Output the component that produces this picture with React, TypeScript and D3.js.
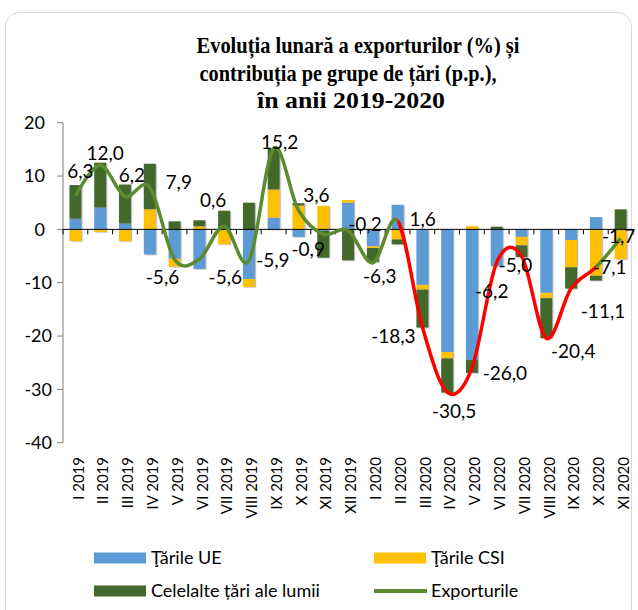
import React, { useEffect, useRef } from "react";
import * as d3 from "d3";

const months = [
  "I 2019", "II 2019", "III 2019", "IV 2019", "V 2019", "VI 2019", "VII 2019", "VIII 2019",
  "IX 2019", "X 2019", "XI 2019", "XII 2019", "I 2020", "II 2020", "III 2020", "IV 2020",
  "V 2020", "VI 2020", "VII 2020", "VIII 2020", "IX 2020", "X 2020", "XI 2020"
];
const tarileUE = [2.0, 4.1, 1.1, -4.7, -5.5, -7.4, 0, -9.3, 2.2, -1.4, -0.3, 5.0, -3.2, 4.6, -10.4, -23.0, -24.5, -6.9, -1.4, -11.9, -2.0, 2.3, 0];
const tarileCSI = [-2.2, -0.5, -2.2, 3.8, -1.5, 0.6, -2.8, -1.5, 5.3, 4.5, 4.4, 0.5, -0.3, -1.9, -0.9, -1.2, 0.6, 0, -1.6, -1.0, -5.1, -8.7, -5.6];
const celelalte = [6.3, 8.4, 7.3, 8.5, 1.5, 1.1, 3.5, 5.0, 7.7, 0.4, -5.0, -5.8, -2.6, -0.9, -7.1, -6.4, -2.4, 0.5, -2.2, -7.5, -4.0, -0.9, 3.75];
const exporturile = [6.3, 12.0, 6.2, 7.9, -5.6, -5.6, 0.6, -5.9, 15.2, 3.6, -0.9, -0.2, -6.3, 1.6, -18.3, -30.5, -26.0, -6.2, -5.0, -20.4, -11.1, -7.1, -1.7];
const yTicks = [20, 10, 0, -10, -20, -30, -40];
const titleLines = ["Evoluția lunară a exporturilor (%) și", "contribuția pe grupe de țări (p.p.),", "în anii 2019-2020"];

// where each value label sits relative to its point (dx, dy)
const labelOffsets = [
  [5, -24], [5, -12], [7, -21], [29, -5], [-12, 18], [26, 18], [-11, -26], [24, 0],
  [6, -6], [18, -15], [-15, 15], [17, -6], [7, 13], [25, -1], [-29, 9], [7, 19],
  [33, 5], [-5, 29], [-6, 9], [27, 13], [32, 23], [14, 0], [-2, -2]
];

const W = 638, H = 610;
const colors = { ue: "#5B9BD5", csi: "#FFC000", alte: "#43682B", line: "#5B8C2F", red: "#FF0000" };
const font = "Lato, 'Open Sans', sans-serif";

function Chart() {
  const ref = useRef<SVGSVGElement>(null);

  useEffect(() => {
    const svg = d3.select(ref.current);
    svg.selectAll("*").remove();

    svg.append("rect")
      .attr("x", 5.5).attr("y", 12.5).attr("width", 626).attr("height", 640).attr("rx", 14)
      .attr("fill", "#fff").attr("stroke", "#d9d9d9");

    // title
    const titleX = [358, 348, 351];
    const titleLen = [323, 297, 188];
    svg.selectAll(".title").data(titleLines).enter().append("text")
      .attr("x", (d, i) => titleX[i])
      .attr("y", (d, i) => 53 + i * 27.5)
      .attr("text-anchor", "middle")
      .attr("font-family", "'Liberation Serif', serif")
      .attr("font-weight", "bold")
      .attr("font-size", 23)
      .attr("textLength", (d, i) => titleLen[i])
      .attr("lengthAdjust", "spacingAndGlyphs")
      .text(d => d);

    const x = d3.scaleBand().domain(months).range([63, 633]).paddingInner(0.52).paddingOuter(0.26);
    const step = 570 / months.length;
    const cx = (i: number) => 63 + (i + 0.5) * step;
    const y = d3.scaleLinear().domain([-40, 20]).range([442.7, 122.7]);

    // y axis
    svg.append("line").attr("x1", 63).attr("x2", 63).attr("y1", y(20)).attr("y2", y(-40))
      .attr("stroke", "#7f7f7f");
    yTicks.forEach(t => {
      svg.append("line").attr("x1", 57).attr("x2", 63).attr("y1", y(t)).attr("y2", y(t)).attr("stroke", "#7f7f7f");
      svg.append("text").attr("x", t < 0 ? 52 : 45).attr("y", y(t)).attr("dy", "0.35em")
        .attr("text-anchor", "end").attr("font-family", font).attr("font-size", 18).text(t);
    });

    // stacked bars
    const rows = months.map((m, i) => ({ m, ue: tarileUE[i], csi: tarileCSI[i], alte: celelalte[i] }));
    const series = d3.stack<any>().keys(["ue", "csi", "alte"]).offset(d3.stackOffsetDiverging)(rows);
    const defs = svg.append("defs");
    const f = defs.append("filter").attr("id", "sh").attr("x", "-20%").attr("y", "-20%").attr("width", "140%").attr("height", "140%");
    f.append("feDropShadow").attr("dx", 1.2).attr("dy", 0.6).attr("stdDeviation", 0.5)
      .attr("flood-color", "#808080").attr("flood-opacity", 0.6);
    series.forEach(s => {
      svg.append("g").attr("filter", "url(#sh)").selectAll("rect").data(s).enter().append("rect")
        .attr("x", d => x(d.data.m) as number)
        .attr("width", x.bandwidth())
        .attr("y", d => y(Math.max(d[0], d[1])))
        .attr("height", d => Math.abs(y(d[0]) - y(d[1])))
        .attr("fill", (colors as any)[s.key]);
    });

    // x axis on zero
    svg.append("line").attr("x1", 63).attr("x2", 633).attr("y1", y(0)).attr("y2", y(0)).attr("stroke", "#000");
    d3.range(months.length + 1).forEach(i => {
      svg.append("line").attr("x1", 63 + i * step).attr("x2", 63 + i * step)
        .attr("y1", y(0)).attr("y2", y(0) + 5).attr("stroke", "#000");
    });
    months.forEach((m, i) => {
      svg.append("text")
        .attr("transform", `translate(${cx(i) + 3},457) rotate(-90)`)
        .attr("dy", "0.35em").attr("text-anchor", "end")
        .attr("font-family", font).attr("font-size", 15).text(m);
    });

    // export line, smoothed, red between II 2020 and X 2020
    const line = d3.line<number>().x((d, i) => cx(i)).y(d => y(d)).curve(d3.curveCardinal.tension(0));
    const xa = cx(13), xb = cx(21);
    const cg = defs.append("clipPath").attr("id", "clipGreen");
    cg.append("rect").attr("x", 0).attr("y", 0).attr("width", xa).attr("height", H);
    cg.append("rect").attr("x", xb).attr("y", 0).attr("width", W - xb).attr("height", H);
    defs.append("clipPath").attr("id", "clipRed")
      .append("rect").attr("x", xa).attr("y", 0).attr("width", xb - xa).attr("height", H);
    svg.append("path").attr("d", line(exporturile)).attr("fill", "none")
      .attr("stroke", colors.line).attr("stroke-width", 3.5).attr("clip-path", "url(#clipGreen)");
    svg.append("path").attr("d", line(exporturile)).attr("fill", "none")
      .attr("stroke", colors.red).attr("stroke-width", 3.5).attr("clip-path", "url(#clipRed)");

    // value labels
    exporturile.forEach((v, i) => {
      svg.append("text")
        .attr("x", cx(i) + labelOffsets[i][0])
        .attr("y", y(v) + labelOffsets[i][1])
        .attr("dy", "0.35em").attr("text-anchor", "middle")
        .attr("font-family", font).attr("font-size", 19)
        .text(v.toFixed(1).replace(".", ","));
    });

    // legend
    const legend = [
      { name: "Ţările UE", c: colors.ue, x: 94, y: 558, type: "rect" },
      { name: "Ţările CSI", c: colors.csi, x: 374, y: 558, type: "rect" },
      { name: "Celelalte țări ale lumii", c: colors.alte, x: 94, y: 591, type: "rect" },
      { name: "Exporturile", c: colors.line, x: 374, y: 591, type: "line" }
    ];
    legend.forEach(l => {
      if (l.type === "rect") {
        svg.append("rect").attr("x", l.x).attr("y", l.y - 5.5).attr("width", 52).attr("height", 11).attr("fill", l.c);
      } else {
        svg.append("line").attr("x1", l.x).attr("x2", l.x + 53).attr("y1", l.y).attr("y2", l.y)
          .attr("stroke", l.c).attr("stroke-width", 4);
      }
      svg.append("text").attr("x", l.x + 57).attr("y", l.y).attr("dy", "0.35em")
        .attr("font-family", font).attr("font-size", 18).text(l.name);
    });
  }, []);

  return <svg ref={ref} width={W} height={H} style={{ position: "absolute", left: 0, top: 0, background: "#fff" }} />;
}

export default function App() {
  return <Chart />;
}
